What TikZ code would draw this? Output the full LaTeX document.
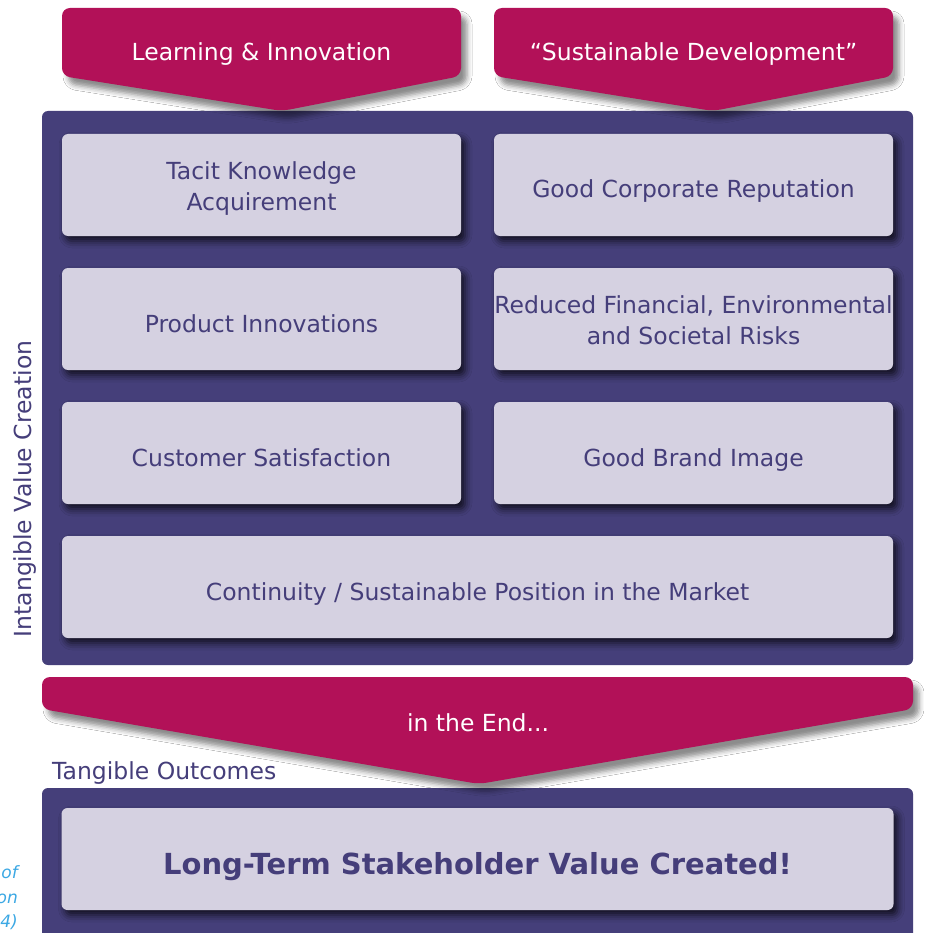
\documentclass[tikz,border=0pt]{standalone}
\usepackage{fontspec}
\setmainfont{DejaVu Sans}
\usetikzlibrary{shadows.blur}
\definecolor{magentaA}{HTML}{B21158}
\definecolor{panelA}{HTML}{453F7A}
\definecolor{boxA}{HTML}{D5D1E1}
\definecolor{textA}{HTML}{453E7A}
\definecolor{noteA}{HTML}{3BA8E4}
\tikzset{
  panelbox/.style={fill=panelA, rounded corners=6pt},
  innerbox/.style={fill=boxA, rounded corners=6pt, minimum height=102pt, inner sep=0pt,
    blur shadow={shadow xshift=4pt, shadow yshift=-5pt, shadow blur radius=7pt, shadow opacity=75}},
  halfbox/.style={innerbox, minimum width=399pt},
  boxtext/.style={align=center, text=textA, font=\fontsize{23.5}{31}\selectfont, inner sep=0pt},
  arrowshape/.style={fill=magentaA, rounded corners=8pt,
    blur shadow={shadow xshift=6pt, shadow yshift=-8pt, shadow blur radius=5pt, shadow opacity=45}},
  arrowtext/.style={text=white, font=\fontsize{23.5}{28}\selectfont, inner sep=0pt},
  plaintext/.style={text=textA, font=\fontsize{23.5}{28}\selectfont, inner sep=0pt},
  notetext/.style={text=noteA, font=\fontsize{17}{21}\itshape, inner sep=0pt},
}
\begin{document}
\begin{tikzpicture}[x=1pt,y=-1pt]
\useasboundingbox (0,0) rectangle (924,933);
\clip (0,0) rectangle (924,933);
\fill[white] (0,0) rectangle (924,933);

% main panel
\path[panelbox] (42,111) rectangle (913,665);
\node[plaintext, rotate=90] (ivc) at (25,489) {Intangible Value Creation};

\node[halfbox] (tacit) at (261.5,185) {};
\node[halfbox] (rep) at (693.5,185) {};
\node[halfbox] (prod) at (261.5,319) {};
\node[halfbox] (risk) at (693.5,319) {};
\node[halfbox] (cust) at (261.5,453) {};
\node[halfbox] (brand) at (693.5,453) {};
\node[innerbox, minimum width=831pt] (cont) at (477.5,587) {};

\node[boxtext] (tacitT) at ([yshift=-3.6pt]tacit.center) {Tacit Knowledge\\Acquirement};
\node[boxtext, anchor=base] (repT) at ([yshift=-13pt]rep.center) {Good Corporate Reputation};
\node[boxtext, anchor=base] (prodT) at ([yshift=-13pt]prod.center) {Product Innovations};
\node[boxtext] (riskT) at ([yshift=-0.9pt]risk.center) {Reduced Financial, Environmental\\and Societal Risks};
\node[boxtext, anchor=base] (custT) at ([yshift=-13pt]cust.center) {Customer Satisfaction};
\node[boxtext, anchor=base] (brandT) at ([yshift=-13pt]brand.center) {Good Brand Image};
\node[boxtext, anchor=base] (contT) at ([yshift=-13pt]cont.center) {Continuity / Sustainable Position in the Market};

% top arrows
\path[arrowshape] (62,8) -- (461,8) -- (461,76) -- (282,111) -- (62,76) -- cycle;
\node[arrowtext, anchor=base] (learn) at (261.5,61) {Learning \& Innovation};
\path[arrowshape] (494,8) -- (893,8) -- (893,76) -- (713,111) -- (494,76) -- cycle;
\node[arrowtext, anchor=base] (sust) at (693.5,61) {“Sustainable Development”};

% bottom panel
\path[panelbox] (42,788) rectangle (913,950);
\node[innerbox, minimum width=832pt] (ltsv) at (477.5,859) {};
\node[boxtext, anchor=base, font=\fontsize{29}{32}\bfseries] (ltsvT) at ([yshift=-15pt]ltsv.center) {Long-Term Stakeholder Value Created!};
\node[plaintext, anchor=base west] (tang) at (52,779) {Tangible Outcomes};

% middle arrow
\path[arrowshape] (42,677) -- (913,677) -- (913,709) -- (479,784) -- (42,709) -- cycle;
\node[arrowtext, anchor=base] (end) at (478,731) {in the End...};

% cut-off note
\node[notetext, anchor=base east] (n1) at (18,878) {of};
\node[notetext, anchor=base east] (n2) at (18,903) {on};
\node[notetext, anchor=base east] (n3) at (18,927) {4)};
\end{tikzpicture}
\end{document}
